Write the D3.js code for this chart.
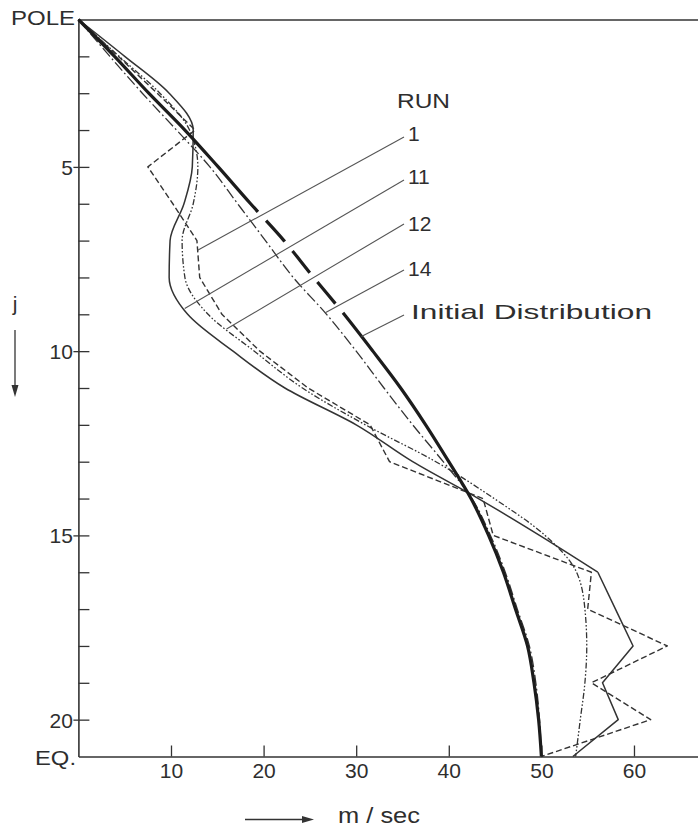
<!DOCTYPE html>
<html>
<head>
<meta charset="utf-8">
<script src="https://cdn.jsdelivr.net/npm/d3@7"></script>
<style>
  html, body { margin: 0; padding: 0; background: #ffffff; }
  svg { display: block; }
  text { font-family: "Liberation Sans", Arial, sans-serif; fill: #2e2e2e; }
</style>
</head>
<body>
<svg id="chart" width="698" height="829"></svg>
<script>
// Grid levels j, from the pole (j = 1) to the equator (j = 21)
const levels = [1, 2, 3, 4, 5, 6, 7, 8, 9, 10, 11, 12, 13, 14, 15, 16, 17, 18, 19, 20, 21];
const levelTickLabels = [5, 10, 15, 20];
const speedTicks = [10, 20, 30, 40, 50, 60];

// Zonal wind (m/sec) at each level j
const initialDist = [0, 3.9, 7.6, 11.5, 15.1, 18.6, 22.2, 25.4, 28.7, 31.8, 34.8, 37.5, 40.0, 42.4, 44.3, 45.9, 47.2, 48.5, 49.2, 49.7, 50.0];
const run1  = [0, 4.3, 8.5, 12.6, 7.5, 10.2, 12.8, 13.1, 15.5, 19.6, 24.8, 31.5, 33.6, 43.7, 44.8, 55.4, 55.0, 63.6, 55.4, 61.8, 50.0];
const run11 = [0, 5.0, 9.8, 12.4, 12.3, 11.4, 9.9, 9.8, 11.8, 16.7, 22.3, 30.0, 36.1, 43.2, 49.8, 56.1, 58.0, 59.9, 56.6, 58.3, 53.4];
const run12 = [0, 4.4, 8.8, 12.0, 12.9, 12.4, 11.2, 11.5, 14.0, 19.0, 24.2, 31.0, 38.6, 44.9, 50.4, 53.8, 54.7, 54.9, 54.7, 54.2, 53.7];
const run14 = [0, 3.4, 6.9, 10.6, 14.2, 17.2, 20.2, 23.2, 26.8, 30.0, 33.0, 36.1, 39.4, 42.5, 44.5, 46.1, 47.4, 48.7, 49.4, 49.8, 50.0];

// Legend labels and the level j where each leader line meets its curve
const legendNames = ["1", "11", "12", "14", "Initial Distribution"];
const leaderLevels = [7.26, 8.84, 9.4, 8.96, 9.6];

const svg = d3.select("#chart");

const x = d3.scaleLinear().domain([0, 67]).range([78.4, 698.8]);
const y = d3.scaleLinear().domain([1, 21]).range([19.5, 756.5]);

const ink = "#333";

// ---- axes ----
const xAxis = d3.axisBottom(x)
  .tickValues(speedTicks)
  .tickSizeInner(-11)
  .tickSizeOuter(0)
  .tickPadding(0);
const gx = svg.append("g").attr("transform", `translate(0,${y(21)})`).call(xAxis);
gx.select(".domain").attr("stroke", ink).attr("stroke-width", 1.6);
gx.selectAll(".tick line").attr("stroke", ink).attr("stroke-width", 1.3);
gx.selectAll(".tick text")
  .attr("y", 21.5).attr("dy", null)
  .attr("font-size", 21).attr("fill", "#333")
  .style("font-family", "'Liberation Sans', Arial, sans-serif");

const yAxis = d3.axisLeft(y)
  .tickValues(levels.slice(1, 20))
  .tickSizeInner(-11)
  .tickSizeOuter(0)
  .tickPadding(5.5)
  .tickFormat(d => levelTickLabels.includes(d) ? d : "");
const gy = svg.append("g").attr("transform", `translate(${x(0)},0)`).call(yAxis);
gy.select(".domain").attr("stroke", ink).attr("stroke-width", 1.6);
gy.selectAll(".tick line").attr("stroke", ink).attr("stroke-width", 1.3);
gy.selectAll(".tick text")
  .attr("dy", "0.36em")
  .attr("font-size", 21).attr("fill", "#333")
  .style("font-family", "'Liberation Sans', Arial, sans-serif");
// labelled levels: tick also crosses to the outside of the axis
gy.selectAll(".tick").filter(d => levelTickLabels.includes(d))
  .append("line").attr("x1", -5).attr("x2", 0)
  .attr("stroke", ink).attr("stroke-width", 1.3);

// top edge at the pole
const topAxis = d3.axisTop(x).tickValues([]).tickSizeOuter(0);
const gt = svg.append("g").attr("transform", `translate(0,${y(1)})`).call(topAxis);
gt.select(".domain").attr("stroke", ink).attr("stroke-width", 1.6);

svg.append("text").attr("x", 11).attr("y", 25).attr("font-size", 21)
  .attr("textLength", 64).attr("lengthAdjust", "spacingAndGlyphs").text("POLE");
svg.append("text").attr("x", 35).attr("y", 765).attr("font-size", 21)
  .attr("textLength", 41).attr("lengthAdjust", "spacingAndGlyphs").text("EQ.");

// axis titles with arrows
svg.append("text").attr("x", 15).attr("y", 311).attr("font-size", 21)
  .attr("text-anchor", "middle").text("j");
svg.append("line").attr("x1", 15).attr("x2", 15).attr("y1", 330).attr("y2", 388)
  .attr("stroke", ink).attr("stroke-width", 1.3);
svg.append("path").attr("d", "M11.5,385 L18.5,385 L15,397 Z").attr("fill", ink);

svg.append("line").attr("x1", 245).attr("x2", 304).attr("y1", 819.5).attr("y2", 819.5)
  .attr("stroke", ink).attr("stroke-width", 1.4);
svg.append("path").attr("d", "M302,816 L302,823 L314,819.5 Z").attr("fill", ink);
svg.append("text").attr("x", 338).attr("y", 823).attr("font-size", 22)
  .attr("textLength", 82).attr("lengthAdjust", "spacingAndGlyphs").text("m / sec");

// ---- curves ----
const pts = vals => vals.map((v, i) => [v, levels[i]]);
const lineLin = d3.line().x(d => x(d[0])).y(d => y(d[1]));
const lineSmooth = d3.line().x(d => x(d[0])).y(d => y(d[1])).curve(d3.curveMonotoneY);

const plot = svg.append("g").attr("fill", "none").attr("stroke-linejoin", "round");

// Run 14: long dash - dot
plot.append("path").attr("d", lineSmooth(pts(run14)))
  .attr("stroke", ink).attr("stroke-width", 1.3).attr("stroke-dasharray", "11,3,1.8,3");

// Run 12: dash - dot - dot
plot.append("path").attr("d", lineSmooth(pts(run12)))
  .attr("stroke", ink).attr("stroke-width", 1.3).attr("stroke-dasharray", "6,2,1.6,2,1.6,2");

// Run 11: solid, smooth toward the pole, broken line near the equator
const r11 = pts(run11);
plot.append("path").attr("d", lineSmooth(r11.slice(0, 16)))
  .attr("stroke", ink).attr("stroke-width", 1.5);
plot.append("path").attr("d", lineLin(r11.slice(15)))
  .attr("stroke", ink).attr("stroke-width", 1.5);

// Run 1: dashed broken line
plot.append("path").attr("d", lineLin(pts(run1)))
  .attr("stroke", ink).attr("stroke-width", 1.4).attr("stroke-dasharray", "6,3");

// Initial distribution: heavy line, broken into long dashes through mid-latitudes
const thick = plot.append("path").attr("d", lineSmooth(pts(initialDist)))
  .attr("stroke", "#1c1c1c").attr("stroke-width", 3.2).attr("stroke-linecap", "butt");
(function () {
  const node = thick.node();
  const total = node.getTotalLength();
  const lengthAtY = yy => {
    let lo = 0, hi = total;
    for (let k = 0; k < 40; k++) {
      const mid = (lo + hi) / 2;
      if (node.getPointAtLength(mid).y < yy) lo = mid; else hi = mid;
    }
    return (lo + hi) / 2;
  };
  const s0 = lengthAtY(y(6.22)), s1 = lengthAtY(y(8.96));
  const u = (s1 - s0) / (4 * 12 + 3 * 28);
  const g = 12 * u, d = 28 * u;
  thick.attr("stroke-dasharray", [s0, g, d, g, d, g, d, g, total].join(","));
})();

// ---- legend ----
const legendValues = [run1, run11, run12, run14, initialDist];
const labelBase = [140.5, 183.5, 230.5, 275.5, 318.5];
const leaderStart = [137, 180, 224, 270, 315];
const valueAt = (vals, j) => {
  const i = Math.floor(j) - 1, t = j - Math.floor(j);
  return vals[i] + (vals[i + 1] - vals[i]) * t;
};

svg.append("text").attr("x", 397).attr("y", 108).attr("font-size", 21)
  .attr("textLength", 53).attr("lengthAdjust", "spacingAndGlyphs").text("RUN");

legendNames.forEach((name, i) => {
  const jj = leaderLevels[i];
  svg.append("line")
    .attr("x1", 404).attr("y1", leaderStart[i])
    .attr("x2", x(valueAt(legendValues[i], jj))).attr("y2", y(jj))
    .attr("stroke", "#555").attr("stroke-width", 1.1);
  const t = svg.append("text").attr("x", 408).attr("y", labelBase[i]).attr("font-size", 21).text(name);
  if (name.length > 3) t.attr("x", 411).attr("textLength", 241).attr("lengthAdjust", "spacingAndGlyphs");
});
</script>
</body>
</html>
